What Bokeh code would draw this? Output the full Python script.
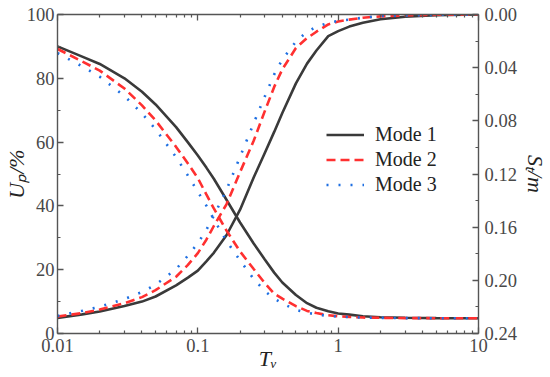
import math
from bokeh.plotting import figure
from bokeh.models import (Range1d, LinearAxis, LogAxis, FixedTicker, Legend, LegendItem,
                          PrintfTickFormatter)
from bokeh.embed import file_html
from bokeh.resources import INLINE

# ---- data ----
t_v = [0.01, 0.015, 0.02, 0.03, 0.04, 0.05, 0.07, 0.085, 0.1, 0.115, 0.13, 0.16, 0.2,
       0.25, 0.3, 0.35, 0.4, 0.5, 0.6, 0.7, 0.85, 1, 1.2, 1.5, 2, 3, 5, 10]

# degree of consolidation U_p (%)
up_mode1 = [4.9, 6.0, 6.9, 8.6, 10.0, 11.6, 15.1, 17.5, 19.7, 22.6, 25.3, 30.8, 38.8,
            48.9, 56.6, 63.2, 69.1, 78.4, 84.6, 88.7, 93.2, 94.8, 96.2, 97.4, 98.5, 99.3,
            99.8, 100.0]
up_mode2 = [5.3, 6.4, 7.5, 9.5, 11.4, 13.6, 17.8, 21.5, 25.2, 29.4, 33.7, 40.5, 50.6,
            60.4, 69.7, 77.3, 82.8, 89.5, 92.6, 94.6, 96.9, 97.8, 98.4, 99.0, 99.4, 99.7,
            99.9, 100.0]
up_mode3 = [5.5, 7.1, 8.4, 10.8, 13.0, 15.3, 20.2, 24.4, 28.3, 32.5, 36.9, 45.0, 55.4,
            65.9, 74.3, 81.2, 85.9, 91.5, 94.6, 96.1, 97.4, 98.0, 98.4, 99.0, 99.5, 99.7,
            99.9, 100.0]

# settlement S_t (m)
st_mode1 = [0.0240, 0.0317, 0.0372, 0.0480, 0.0581, 0.0677, 0.0847, 0.0962, 0.1061, 0.1152,
            0.1236, 0.1394, 0.1565, 0.1723, 0.1843, 0.1942, 0.2016, 0.2110, 0.2172, 0.2206,
            0.2232, 0.2249, 0.2258, 0.2270, 0.2278, 0.2281, 0.2284, 0.2285]
st_mode2 = [0.0259, 0.0353, 0.0422, 0.0557, 0.0684, 0.0797, 0.0996, 0.1121, 0.1231, 0.1354,
            0.1459, 0.1625, 0.1783, 0.1915, 0.2021, 0.2100, 0.2138, 0.2194, 0.2230, 0.2246,
            0.2263, 0.2270, 0.2275, 0.2280, 0.2282, 0.2284, 0.2285, 0.2285]
st_mode3 = [0.0290, 0.0391, 0.0468, 0.0614, 0.0744, 0.0864, 0.1073, 0.1212, 0.1334, 0.1438,
            0.1541, 0.1704, 0.1850, 0.1990, 0.2081, 0.2136, 0.2174, 0.2222, 0.2244, 0.2256,
            0.2268, 0.2273, 0.2276, 0.2280, 0.2282, 0.2284, 0.2285, 0.2285]

mode_names = ["Mode 1", "Mode 2", "Mode 3"]
x_title = "T\u1d65"          # T_v
up_title = "U\u209a/%"       # U_p/%
st_title = "S\u209c/m"       # S_t/m

x_major = [0.01, 0.1, 1, 10]
x_minor = [m * d for d in [0.01, 0.1, 1] for m in range(2, 10)]
x_labels = {0.01: "0.01", 0.1: "0.1", 1: "1", 10: "10"}
up_major = [0, 20, 40, 60, 80, 100]
up_minor = [10, 30, 50, 70, 90]
st_major = [0.0, 0.04, 0.08, 0.12, 0.16, 0.20, 0.24]
st_minor = [0.02, 0.06, 0.10, 0.14, 0.18, 0.22]

# ---- styles ----
colors = ["#3a3a3a", "#ff3030", "#1e6fe2"]
dashes = ["solid", "9 5", "2 10"]
FONT = "Liberation Serif"
AX = "#555555"

p = figure(width=550, height=377, x_axis_type="log",
           x_range=Range1d(0.01, 10), y_range=Range1d(0, 100),
           output_backend="svg", toolbar_location=None)
p.min_border = 0
p.min_border_left = 53
p.min_border_right = 68
p.min_border_top = 14
p.min_border_bottom = 44
p.outline_line_color = None
p.xgrid.visible = False
p.ygrid.visible = False
p.extra_y_ranges = {"st": Range1d(start=0.24, end=0.0)}


def style(ax, show_labels=True):
    ax.axis_line_color = AX
    ax.axis_line_width = 1.4
    ax.major_tick_line_color = AX
    ax.minor_tick_line_color = AX
    ax.major_tick_line_width = 1.3
    ax.minor_tick_line_width = 1.2
    ax.major_tick_in = 6
    ax.major_tick_out = 0
    ax.minor_tick_in = 3
    ax.minor_tick_out = 0
    ax.major_label_text_font = FONT
    ax.axis_label_text_font = FONT
    ax.axis_label_text_font_size = "22px"
    ax.axis_label_text_font_style = "italic"
    ax.axis_label_text_color = "#222222"
    if show_labels:
        ax.major_label_text_color = "#484848"
        ax.major_label_text_font_size = "18.5px"
    else:
        ax.major_label_text_color = None
        ax.major_label_text_font_size = "2px"


xa = p.xaxis[0]
xa.ticker = FixedTicker(ticks=x_major, minor_ticks=x_minor)
xa.major_label_overrides = x_labels
xa.major_label_standoff = 5
style(xa)
xa.axis_label = x_title
xa.axis_label_standoff = -9

ya = p.yaxis[0]
ya.ticker = FixedTicker(ticks=up_major, minor_ticks=up_minor)
ya.major_label_standoff = 3
style(ya)
ya.axis_label = up_title
ya.axis_label_standoff = -5

top = LogAxis(ticker=FixedTicker(ticks=x_major, minor_ticks=x_minor))
style(top, show_labels=False)
top.major_label_overrides = {k: "" for k in x_major}
top.major_label_standoff = 0
p.add_layout(top, "above")

right = LinearAxis(y_range_name="st",
                   ticker=FixedTicker(ticks=st_major, minor_ticks=st_minor),
                   formatter=PrintfTickFormatter(format="%.2f"))
style(right)
right.major_label_standoff = 6
right.axis_label = st_title
right.axis_label_standoff = 3
p.add_layout(right, "right")

items = []
for name, up, st, c, d in zip(mode_names, [up_mode1, up_mode2, up_mode3],
                              [st_mode1, st_mode2, st_mode3], colors, dashes):
    r1 = p.line(t_v, up, line_color=c, line_width=2.6, line_dash=d)
    p.line(t_v, st, y_range_name="st", line_color=c, line_width=2.6, line_dash=d)
    items.append(LegendItem(label=name, renderers=[r1]))

legend = Legend(items=items, location=(269, 136), padding=0, margin=0, spacing=0,
                glyph_width=38, glyph_height=25, label_height=25, label_standoff=11,
                label_text_font=FONT, label_text_font_size="20px", label_text_color="#222222",
                background_fill_alpha=0, border_line_color=None)
p.add_layout(legend)

open("out.html", "w").write(file_html(p, INLINE))
